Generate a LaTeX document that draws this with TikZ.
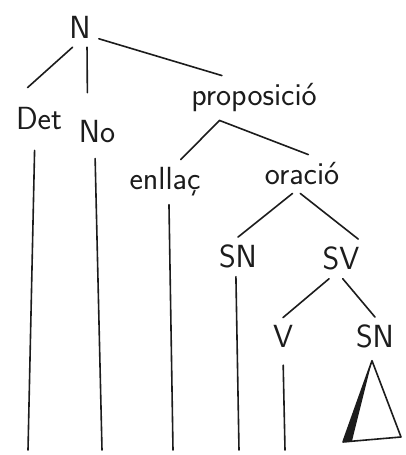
\documentclass[tikz,border=0pt]{standalone}
\usepackage{tikz}

\begin{document}
\begin{tikzpicture}[x=1pt, y=1pt,
  lbl/.style={anchor=base, inner sep=8pt, text=inkBlack, font={\fontsize{32}{38}\selectfont\sffamily}},
  branch/.style={draw=inkBlack, line width=1.6pt, line cap=round},
]

% Colori
\definecolor{inkBlack}{HTML}{1C1C1C}

% Marges
\useasboundingbox[fill=white] (0,0) rectangle (406,455);

% Etiquetes
\node[lbl] (N)      at (80,416)  {N};
\node[lbl, inner ysep=20pt] (Det) at (39,325) {Det};
\node[lbl] (No)     at (97,312)  {No};
\node[lbl] (prop)   at (254,349) {proposició};
\node[lbl] (enllac) at (165,265) {enllaç};
\node[lbl] (oracio) at (302,270) {oració};
\node[lbl] (SNa)    at (238,187) {SN};
\node[lbl] (SV)     at (341,185) {SV};
\node[lbl] (V)      at (283,107) {V};
\node[lbl] (SNb)    at (375,107) {SN};

% Branques
\draw[branch] (N.249) -- (Det.110);
\draw[branch, shorten >=20pt] (N.290) -- (No.116);
\draw[branch] (N.330) -- (prop.145);
\draw[branch] (prop.213) -- (enllac.55);
\draw[branch] (prop.213) -- (oracio.72);
\draw[branch] (oracio.244) -- (SNa.north);
\draw[branch] (oracio.265) -- (SV.49);
\draw[branch] (SV.239) -- (V.north);
\draw[branch] (SV.275) -- (SNb.north);

% Linies verticals fins a baix
\coordinate (DetEnd)    at (28,5);
\coordinate (NoEnd)     at (102,5);
\coordinate (enllacEnd) at (173,5);
\coordinate (SNaEnd)    at (239,5);
\coordinate (VEnd)      at (285,5);

\draw[branch] (Det.262) -- (DetEnd);
\draw[branch, shorten <=7pt]  (No.264) -- (NoEnd);
\draw[branch] (enllac.280) -- (enllacEnd);
\draw[branch] (SNa.264) -- (SNaEnd);
\draw[branch, shorten <=9pt]  (V.south) -- (VEnd);

% Triangle sota SN
\coordinate (triTop) at ([xshift=-3pt, yshift=-4pt]SNb.south);
\coordinate (triL)   at (343,13);
\coordinate (triR)   at (401,18);
\draw[branch, line join=round] (triTop) -- (triL) -- (triR) -- cycle;
\fill[inkBlack] (triTop) -- (triL) -- (352,14) -- cycle;

\end{tikzpicture}
\end{document}
